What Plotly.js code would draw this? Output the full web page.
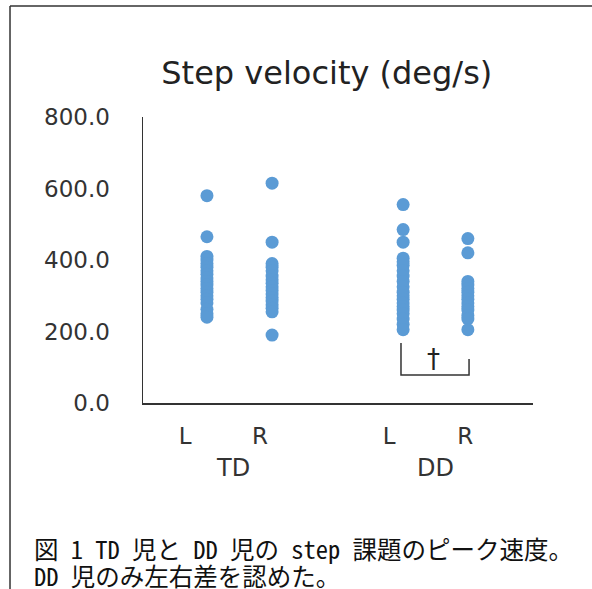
<!DOCTYPE html>
<html>
<head>
<meta charset="utf-8">
<script src="https://cdn.plot.ly/plotly-3.0.1.min.js"></script>
<style>html,body{margin:0;padding:0;background:#fff;}#chart{width:592px;height:589px;}</style>
</head>
<body>
<div id="chart"></div>
<script>
// ---- data ----
var sideLabels = ['L', 'R', 'L', 'R'];
var groupLabels = ['TD', 'DD'];
var tdL = [580, 465, 410, 400, 390, 380, 370, 360, 350, 340, 330, 320, 310, 300, 290, 280, 262, 250, 240];
var tdR = [615, 450, 390, 380, 370, 355, 345, 335, 325, 315, 305, 295, 285, 275, 265, 255, 190];
var ddL = [555, 485, 450, 405, 395, 385, 370, 355, 340, 325, 310, 300, 290, 280, 270, 260, 250, 235, 220, 205];
var ddR = [460, 420, 340, 330, 320, 310, 300, 290, 280, 270, 260, 245, 235, 205];
var titleText = 'Step velocity (deg/s)';
var captionLines = ['図 1 TD 児と DD 児の step 課題のピーク速度。', 'DD 児のみ左右差を認めた。'];
var sigMark = '†';

// ---- layout helpers ----
var seriesX = [1.64, 3.31, 6.67, 8.33];
var labelX = [1.08, 3.0, 6.31, 8.26];
var groupX = [2.31, 7.49];
var series = [tdL, tdR, ddL, ddR];
var color = '#5B9BD5';
var latin = '"DejaVu Sans", "Noto Sans", sans-serif';
var capFont = '"Noto Sans Mono CJK JP", "Noto Sans CJK JP", sans-serif';

var traces = series.map(function (vals, i) {
  return {
    type: 'scatter', mode: 'markers',
    x: vals.map(function () { return seriesX[i]; }),
    y: vals,
    marker: {color: color, size: 13, line: {width: 0}},
    hoverinfo: 'y', showlegend: false
  };
});

var annotations = groupLabels.map(function (g, i) {
  return {text: g, x: groupX[i], xref: 'x', y: -0.228, yref: 'paper', showarrow: false,
          xanchor: 'center', yanchor: 'middle', font: {family: latin, size: 24, color: '#333'}};
});
annotations.push({text: sigMark, x: 7.44, xref: 'x', y: 122, yref: 'y', showarrow: false,
                  xanchor: 'center', yanchor: 'middle', font: {family: latin, size: 26, color: '#222'}});
captionLines.forEach(function (t, i) {
  annotations.push({text: t, x: -0.282, xref: 'paper', y: [-0.507, -0.602][i], yref: 'paper',
                    showarrow: false, xanchor: 'left', yanchor: 'middle', borderpad: 0,
                    font: {family: capFont, size: 24.5, color: '#111'}});
});

var lineStyle = {color: '#333', width: 1.5};
var shapes = [
  // frame
  {type: 'line', xref: 'paper', yref: 'paper', x0: -0.341, x1: 1.2, y0: 1.388, y1: 1.388, line: lineStyle},
  {type: 'line', xref: 'paper', yref: 'paper', x0: -0.341, x1: -0.341, y0: 1.388, y1: -0.66, line: lineStyle},
  // significance bracket
  {type: 'path', xref: 'x', yref: 'y', path: 'M 6.615 168 L 6.615 78 L 8.36 78 L 8.36 123',
   line: {color: '#333', width: 1.5}}
];

var layout = {
  width: 592, height: 589,
  margin: {l: 143, r: 59, t: 117, b: 186},
  paper_bgcolor: '#fff', plot_bgcolor: '#fff',
  title: {text: titleText, xref: 'container', x: 0.552, xanchor: 'center', yref: 'container', y: 0.876, yanchor: 'middle',
          font: {family: latin, size: 32, color: '#222'}},
  xaxis: {range: [0, 10], showgrid: false, zeroline: false, showline: true, linecolor: '#333', linewidth: 1.5,
          tickmode: 'array', tickvals: labelX, ticktext: sideLabels, ticks: '', ticklabelstandoff: 12,
          tickfont: {family: latin, size: 23, color: '#333'}, fixedrange: true},
  yaxis: {range: [0, 800], showgrid: false, zeroline: false, showline: true, linecolor: '#333', linewidth: 1.5,
          tickmode: 'array', tickvals: [0, 200, 400, 600, 800], ticktext: ['0.0', '200.0', '400.0', '600.0', '800.0'],
          ticks: '', ticklabelstandoff: 27, tickfont: {family: latin, size: 23, color: '#333'}, fixedrange: true},
  shapes: shapes,
  annotations: annotations
};

Plotly.newPlot('chart', traces, layout, {displayModeBar: false, staticPlot: true});
</script>
</body>
</html>
